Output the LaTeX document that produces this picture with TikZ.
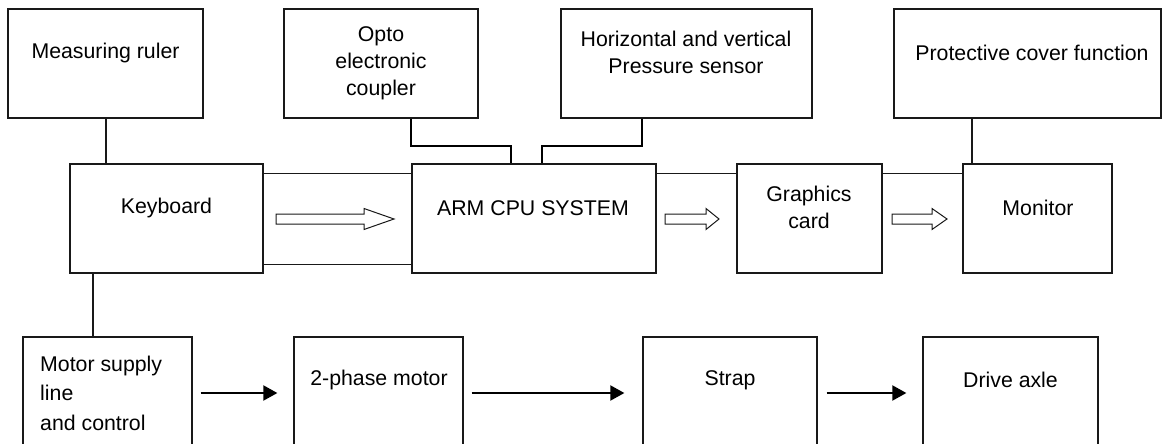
\documentclass[tikz,border=0pt]{standalone}
\usepackage{fontspec}
\setmainfont{Liberation Sans}
\usetikzlibrary{fit,calc,arrows.meta}
\begin{document}
\begin{tikzpicture}[x=1pt,y=-1pt,
  box/.style={draw=black!90,line width=1.3pt,inner sep=0pt,rectangle},
  txt/.style={font=\fontsize{21.3}{27}\selectfont,inner sep=0pt,align=center},
  thin/.style={draw=black!90,line width=1.4pt},
  heavy/.style={draw=black,line width=2.2pt},
  hollow/.style={draw=black!90,line width=1pt,fill=white},
  blk/.style={draw=black,line width=2pt,-{Triangle[length=14pt,width=15pt]}}]
\useasboundingbox (0,0) rectangle (1162,444);
% boxes
\node[box,fit={(8,9) (203,118)}] (ruler) {};
\node[box,fit={(284,9) (478,118)}] (opto) {};
\node[box,fit={(561,9) (812,118)}] (hv) {};
\node[box,fit={(894,9) (1161,118)}] (prot) {};
\node[box,fit={(70,164) (263,273)}] (kb) {};
\node[box,fit={(412,164) (656,273)}] (arm) {};
\node[box,fit={(737,164) (882,273)}] (gc) {};
\node[box,fit={(963,164) (1112,273)}] (mon) {};
\node[box,fit={(23,337) (192,470)}] (motor) {};
\node[box,fit={(294,337) (463,470)}] (ph) {};
\node[box,fit={(643,337) (817,470)}] (strap) {};
\node[box,fit={(923,337) (1098,470)}] (axle) {};
% texts
\node[txt] (t1) at (105.5,53) {Measuring ruler};
\node[txt] (t2) at (381,63) {Opto\\electronic\\coupler};
\node[txt] (t3) at (686,52) {Horizontal and vertical\\Pressure sensor};
\node[txt] (t4) at (1032,53) {Protective cover function};
\node[txt] (t5) at (166.5,208) {Keyboard};
\node[txt] (t6) at (533,208) {ARM CPU SYSTEM};
\node[txt] (t7) at (809,207) {Graphics\\card};
\node[txt] (t8) at (1038,208) {Monitor};
\node[txt,font=\fontsize{21.3}{29.5}\selectfont,align=left,anchor=west] (t9) at (40,393) {Motor supply\\line\\and control};
\node[txt] (t10) at (379,380) {2-phase motor};
\node[txt] (t11) at (730,380) {Strap};
\node[txt] (t12) at (1010.5,380) {Drive axle};
% connectors
\path[thin] ($(kb.north east)+(0,10)$) -- ($(arm.north west)+(0,10)$);
\path[thin] ($(kb.south east)+(0,-9)$) -- ($(arm.south west)+(0,-9)$);
\path[thin] ($(arm.north east)+(0,10)$) -- ($(gc.north west)+(0,10)$);
\path[thin] ($(gc.north east)+(0,10)$) -- ($(mon.north west)+(0,10)$);
\coordinate (rk) at (106,0);
\path[thin] (ruler.south -| rk) -- (rk |- kb.north);
\coordinate (pm) at (972,0);
\path[thin] (prot.south -| pm) -- (pm |- mon.north);
\coordinate (km) at (93,0);
\path[thin] (kb.south -| km) -- (km |- motor.north);
\coordinate (o1) at (411,146);
\coordinate (o2) at (511,146);
\path[heavy] (opto.south -| o1) -- (o1) -- (o2) -- (o2 |- arm.north);
\coordinate (h1) at (642,146);
\coordinate (h2) at (542,146);
\path[heavy] (hv.south -| h1) -- (h1) -- (h2) -- (h2 |- arm.north);
% hollow arrows
\path[hollow] (276,214) -- (364,214) -- (364,208.5) -- (394,219) -- (364,229.5) -- (364,224) -- (276,224) -- cycle;
\path[hollow] (665,214) -- (706,214) -- (706,208.5) -- (719,219) -- (706,229.5) -- (706,224) -- (665,224) -- cycle;
\path[hollow] (892,214) -- (932,214) -- (932,208.5) -- (947,219) -- (932,229.5) -- (932,224) -- (892,224) -- cycle;
% black arrows
\coordinate (ay) at (0,393);
\draw[blk] ($(motor.east |- ay)+(8,0)$) -- ($(ph.west |- ay)+(-16,0)$);
\draw[blk] ($(ph.east |- ay)+(8,0)$) -- ($(strap.west |- ay)+(-18,0)$);
\draw[blk] ($(strap.east |- ay)+(9,0)$) -- ($(axle.west |- ay)+(-16,0)$);
\end{tikzpicture}
\end{document}
